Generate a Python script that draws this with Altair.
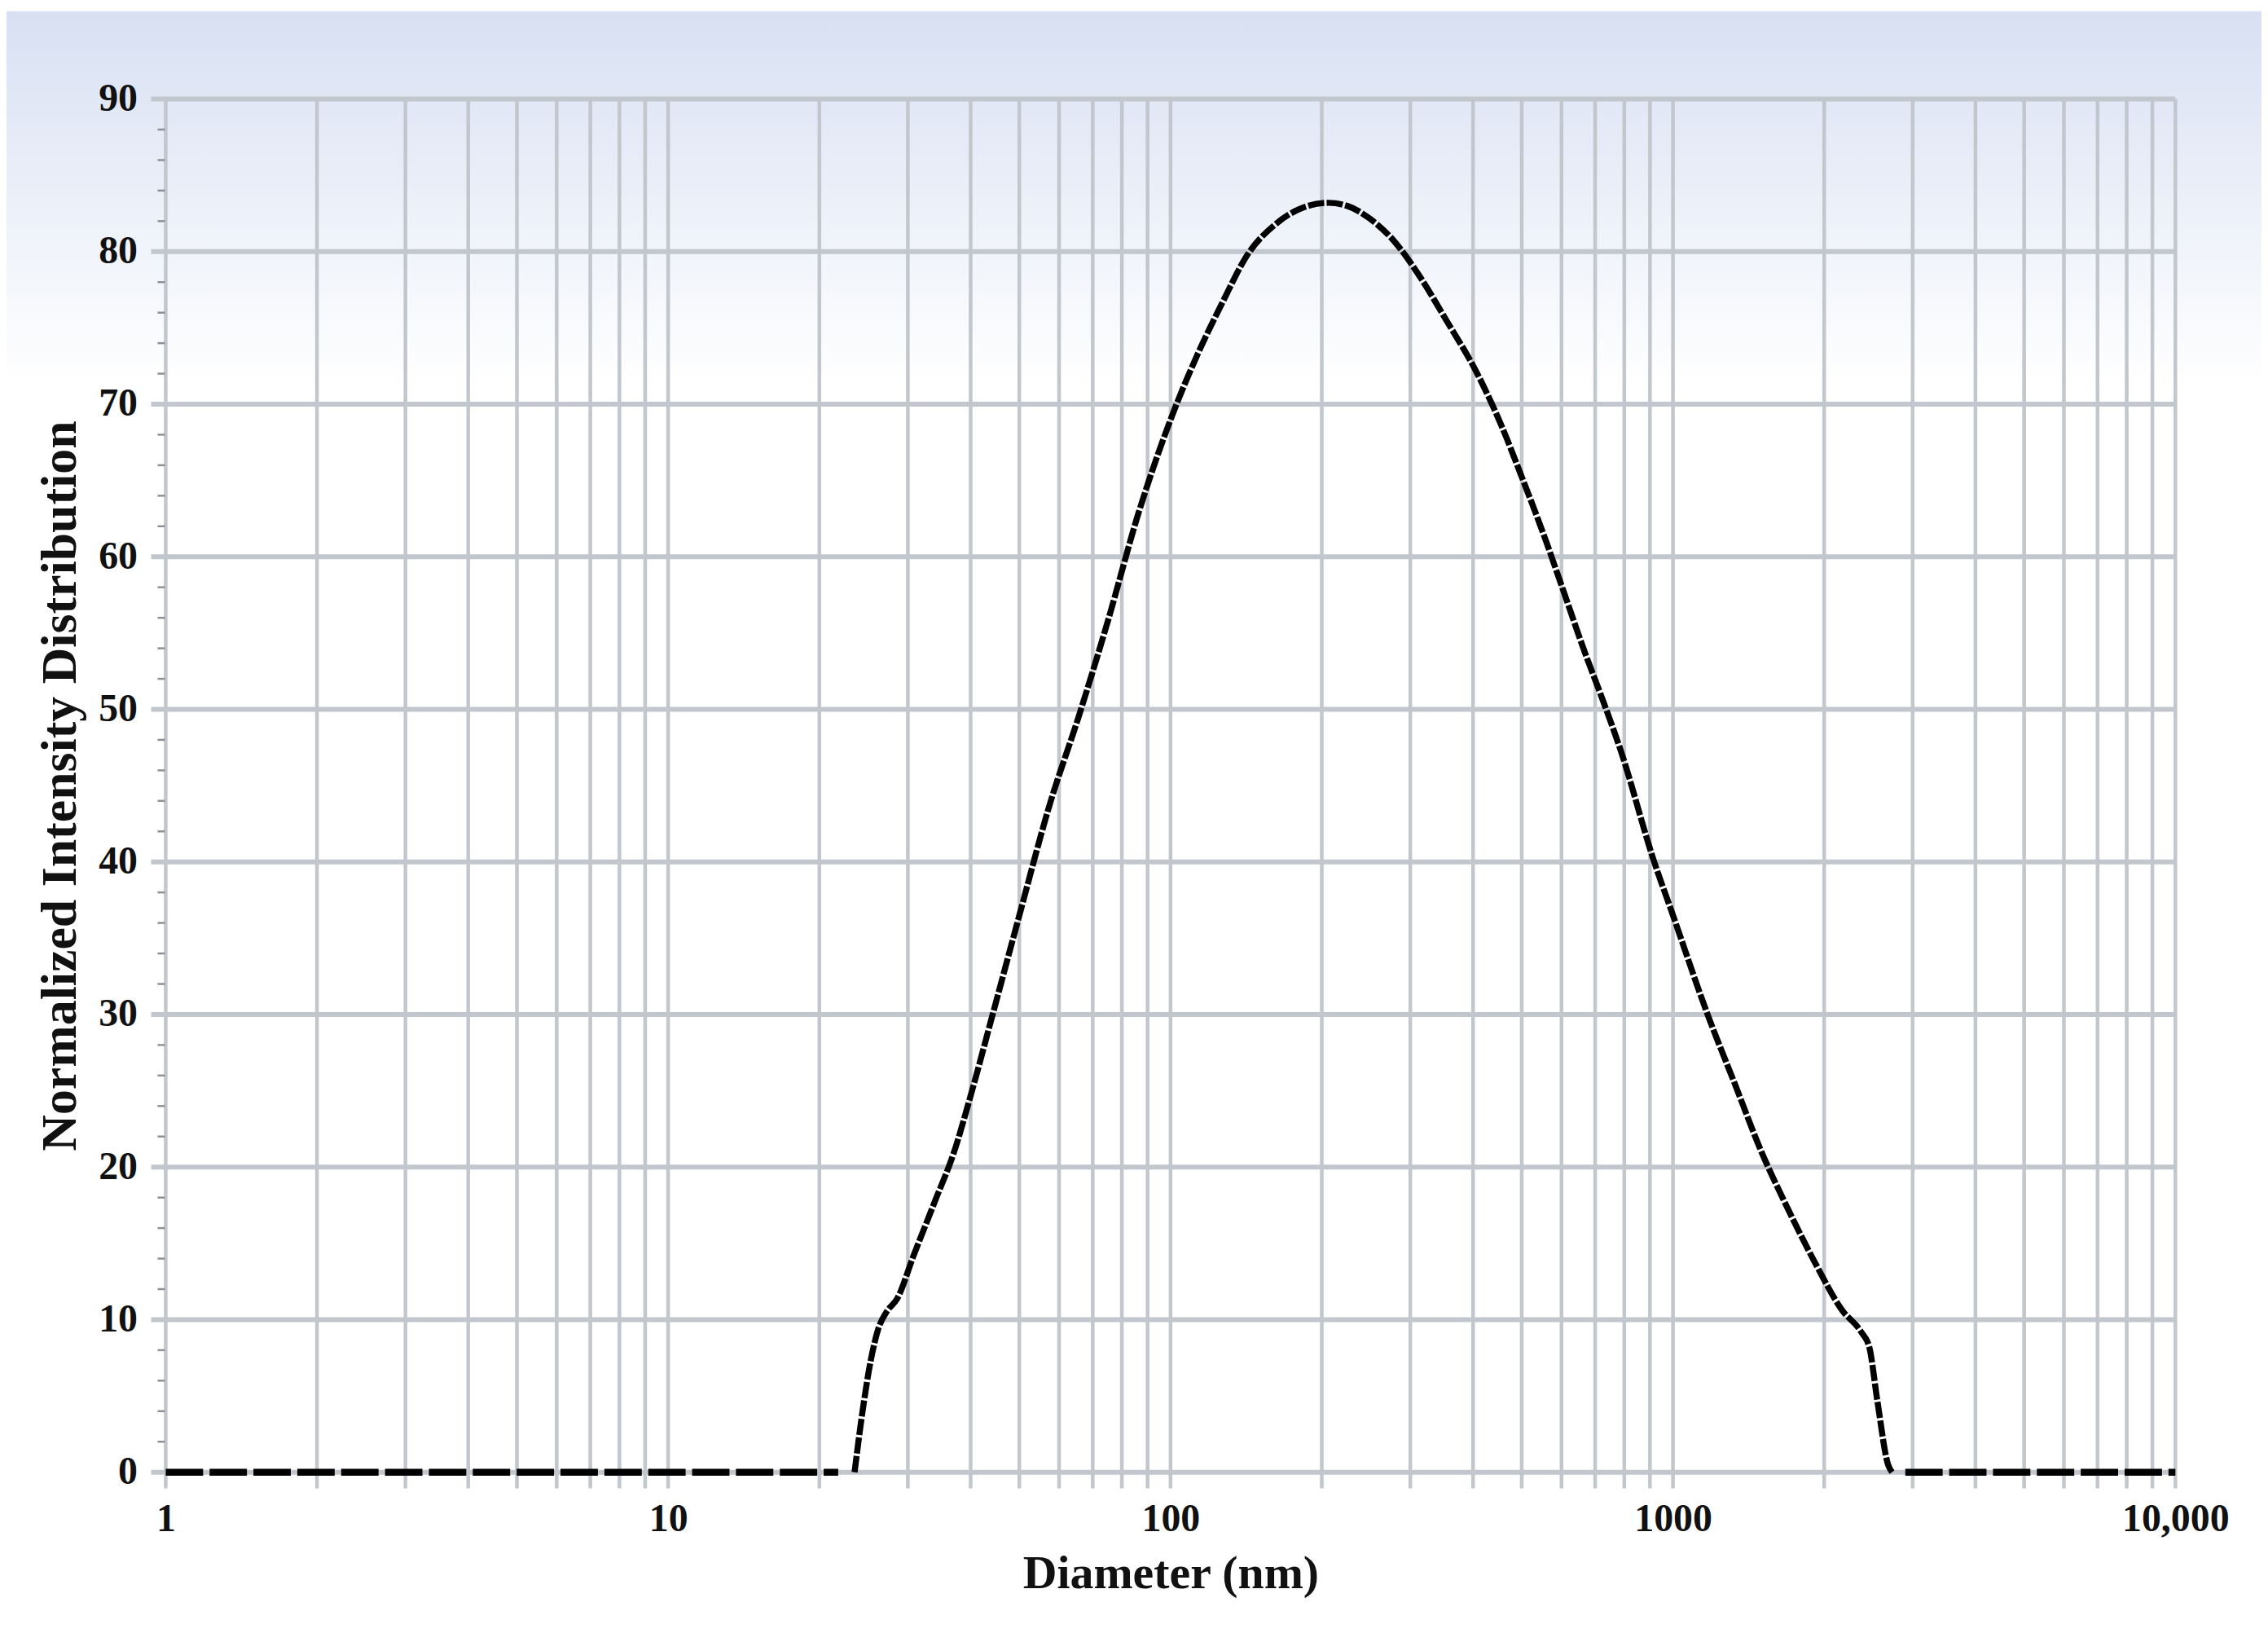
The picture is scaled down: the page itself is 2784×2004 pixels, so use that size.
import altair as alt
import pandas as pd

# ---------------- data ----------------
left_zero_x = [1, 21.8]
left_zero_y = [0, 0]

curve_x = [23.5, 24.4, 25.3, 26.2, 27.2, 28.6, 30.8, 34.0, 37.0, 40.1, 44.0, 50.2,
           57.4, 65.6, 74.9, 86.4, 94.1, 102.5, 113.3, 127, 142.3, 161.8, 184,
           206.4, 224.7, 248.3, 278.4, 314.4, 352.4, 406.4, 455.6, 496.5, 556.4,
           606.2, 669.9, 719.4, 788.9, 915.5, 997.7, 1172, 1326, 1500, 1697, 1920,
           2173, 2368, 2459, 2551, 2680, 2729]
curve_y = [0, 4.1, 7.3, 9.4, 10.5, 11.4, 14.2, 17.8, 20.9, 24.8, 29.7, 36.7,
           43.7, 49.5, 55.7, 62.9, 66.6, 69.9, 73.3, 76.7, 79.8, 81.8, 82.9,
           83.2, 83.0, 82.2, 80.7, 78.3, 75.6, 72.1, 68.6, 65.5, 61.2,
           57.7, 53.6, 50.9, 47.2, 40.1, 36.6, 30.0, 25.5, 21.0, 17.2, 13.7,
           10.6, 9.2, 8.2, 4.7, 0.5, 0]

right_zero_x = [2900, 10000]
right_zero_y = [0, 0]

x_ticks = [1, 10, 100, 1000, 10000]
x_tick_labels = ["1", "10", "100", "1000", "10,000"]
y_ticks = [0, 10, 20, 30, 40, 50, 60, 70, 80, 90]
y_minor = [2, 4, 6, 8, 12, 14, 16, 18, 22, 24, 26, 28, 32, 34, 36, 38, 42, 44, 46, 48,
           52, 54, 56, 58, 62, 64, 66, 68, 72, 74, 76, 78, 82, 84, 86, 88]
x_grid = [1, 2, 3, 4, 5, 6, 7, 8, 9,
          10, 20, 30, 40, 50, 60, 70, 80, 90,
          100, 200, 300, 400, 500, 600, 700, 800, 900,
          1000, 2000, 3000, 4000, 5000, 6000, 7000, 8000, 9000,
          10000]

# ---------------- tables ----------------
flat_df = pd.DataFrame({
    "d": left_zero_x + right_zero_x,
    "v": left_zero_y + right_zero_y,
    "part": ["left"] * len(left_zero_x) + ["right"] * len(right_zero_x),
})
curve_df = pd.DataFrame({"d": curve_x, "v": curve_y})
xgrid_df = pd.DataFrame({"d": x_grid})
ygrid_df = pd.DataFrame({"v": y_ticks})
yminor_df = pd.DataFrame({"v": y_minor})

W, H = 2474, 1690
FONT = "Liberation Serif"
GRID = "#c2c6cd"
TXT = "#111111"

label_expr = " : ".join(
    f"round(datum.value) == {v} ? '{t}'" for v, t in zip(x_ticks, x_tick_labels)
) + " : ''"

xscale = alt.Scale(type="log", domain=[1, 10000], nice=False)
yscale = alt.Scale(domain=[0, 90], nice=False, zero=True)

xaxis = alt.Axis(values=x_ticks, labelExpr=label_expr, grid=False, domain=False,
                 ticks=False, tickSize=0, labelPadding=34, labelFontSize=48,
                 labelFont=FONT, labelFontWeight="bold", labelColor=TXT,
                 labelFlush=False, labelOverlap=False, zindex=1,
                 title="Diameter (nm)", titleFont=FONT, titleFontSize=58,
                 titleFontWeight="bold", titleColor=TXT, titlePadding=14)
yaxis = alt.Axis(values=y_ticks, grid=False, domain=False, ticks=False, tickSize=0,
                 labelPadding=35, labelFontSize=48, labelFont=FONT,
                 labelFontWeight="bold", labelColor=TXT, labelFlush=False,
                 labelOverlap=False, zindex=1,
                 title="Normalized Intensity Distribution", titleFont=FONT,
                 titleFontSize=62, titleFontWeight="bold", titleColor=TXT,
                 titlePadding=15)

X = alt.X("d:Q", scale=xscale, axis=xaxis)
Y = alt.Y("v:Q", scale=yscale, axis=yaxis)

gradient = alt.LinearGradient(
    gradient="linear",
    stops=[alt.GradientStop(color="#d8e0f2", offset=0),
           alt.GradientStop(color="#e9eef8", offset=0.45),
           alt.GradientStop(color="#ffffff", offset=1)],
    x1=0, x2=0, y1=0, y2=1,
)

bg = alt.Chart(alt.Data(values=[{"a": 1}])).mark_rect(fill=gradient, strokeWidth=0).encode(
    x=alt.value(-196), x2=alt.value(W + 106), y=alt.value(-108), y2=alt.value(350)
)

vgrid = alt.Chart(xgrid_df).mark_rule(color=GRID, strokeWidth=4.5).encode(
    x=X, y=alt.value(0), y2=alt.value(H + 20)
)
hgrid = alt.Chart(ygrid_df).mark_rule(color=GRID, strokeWidth=6).encode(
    y=Y, x=alt.value(-18), x2=alt.value(W)
)
minor = alt.Chart(yminor_df).mark_rule(color="#8d9096", strokeWidth=2.5).encode(
    y=Y, x=alt.value(-10), x2=alt.value(-1)
)

flats = alt.Chart(flat_df).mark_line(
    color="black", strokeWidth=8.5, strokeDash=[46, 8], strokeCap="butt"
).encode(x=X, y=Y, detail="part:N")

curve = alt.Chart(curve_df).mark_line(
    color="black", strokeWidth=7.5, strokeDash=[20, 3], interpolate="monotone"
).encode(x=X, y=Y)

chart = alt.layer(bg, vgrid, hgrid, minor, flats, curve).properties(
    width=W, height=H,
    autosize=alt.AutoSizeParams(type="none"),
    padding={"left": 196, "top": 111, "right": 106, "bottom": 187},
    background="white",
).configure_view(strokeWidth=0)

chart.save("out.html", embed_options={"renderer": "svg", "actions": False})
